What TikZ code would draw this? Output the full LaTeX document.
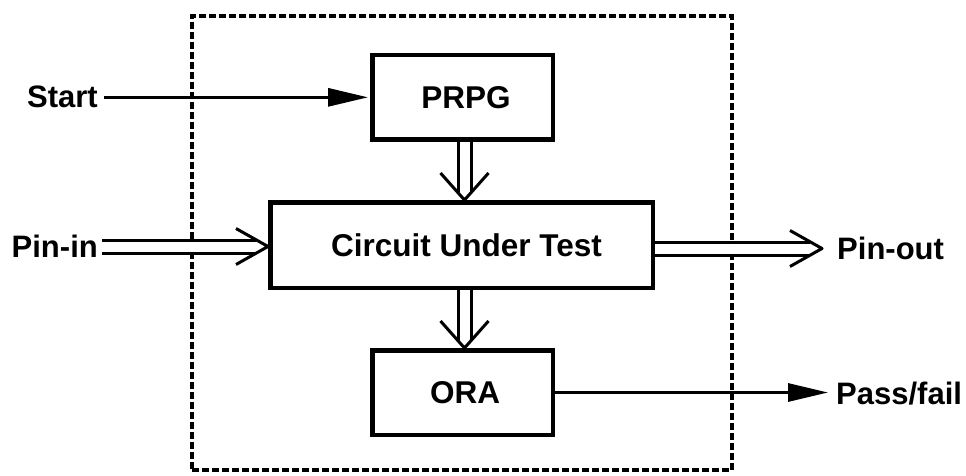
\documentclass[tikz,border=0pt]{standalone}
\usepackage{fontspec}
\setmainfont{Liberation Sans}
\usetikzlibrary{arrows.meta,calc}
\newcommand\myhdbl[2]{%
  \draw[dblline, shorten >=12pt] (#1) -- (#2);
  \draw[conn] ($(#2)+(-32,-18)$) -- (#2) -- ($(#2)+(-32,18)$);}
\newcommand\myvdbl[2]{%
  \draw[dblline, shorten >=8pt] (#1) -- (#2);
  \draw[conn] ($(#2)+(-24,-27)$) -- (#2) -- ($(#2)+(24,-27)$);}
\begin{document}
\begin{tikzpicture}[x=1pt,y=-1pt,
  lbl/.style={font=\fontsize{31}{37}\selectfont\bfseries, inner sep=0pt},
  box/.style={draw, line width=4.5pt, inner sep=0pt, font=\fontsize{31.5}{37}\selectfont\bfseries},
  frame/.style={draw, line width=3.5pt, dash pattern=on 7pt off 3pt, inner sep=0pt},
  conn/.style={line width=3pt, line join=round},
  dblline/.style={draw, line width=3pt, double, double distance=10pt},
  sig/.style={line width=3pt, -{Triangle[length=40pt,width=18pt]}}]
\useasboundingbox (0,0) rectangle (966,476);
\node[frame, minimum width=540pt, minimum height=454pt] (bist) at (462,243) {};
\node[box, minimum width=180.5pt, minimum height=84.5pt] (prpg) at (462.5,97.5) {\hspace*{7pt}PRPG};
\node[box, minimum width=382.5pt, minimum height=85.5pt] (cut) at (461.5,245) {\hspace*{10pt}Circuit Under Test};
\node[box, minimum width=180.5pt, minimum height=84.5pt] (ora) at (462.5,392.5) {\hspace*{5pt}ORA};
\node[lbl, anchor=base east] (start) at (98,108) {Start};
\node[lbl, anchor=base east] (pinin) at (98,257) {Pin-in};
\node[lbl, anchor=base west] (pinout) at (837,259) {Pin-out};
\node[lbl, anchor=base west] (pass) at (836,404) {Pass/fail};
\coordinate (vx) at (464.5,0);
% Start -> PRPG
\draw[sig, shorten <=6pt, shorten >=2pt] (start.east) -- (start.east -| prpg.west);
% Pass/fail
\draw[sig, shorten >=8pt] (ora.east) -- (ora.east -| pass.west);
% Pin-in
\coordinate (pinfrom) at ([xshift=4pt]pinin.east |- 0,246.5);
\coordinate (pinto) at (pinfrom -| cut.west);
\myhdbl{pinfrom}{pinto}
% Pin-out
\coordinate (poutfrom) at (cut.east |- 0,248.5);
\coordinate (poutto) at (822,248.5);
\myhdbl{poutfrom}{poutto}
% PRPG -> CUT
\coordinate (v1from) at (prpg.south -| vx);
\coordinate (v1to) at (cut.north -| vx);
\myvdbl{v1from}{v1to}
% CUT -> ORA
\coordinate (v2from) at (cut.south -| vx);
\coordinate (v2to) at (ora.north -| vx);
\myvdbl{v2from}{v2to}
\end{tikzpicture}
\end{document}
